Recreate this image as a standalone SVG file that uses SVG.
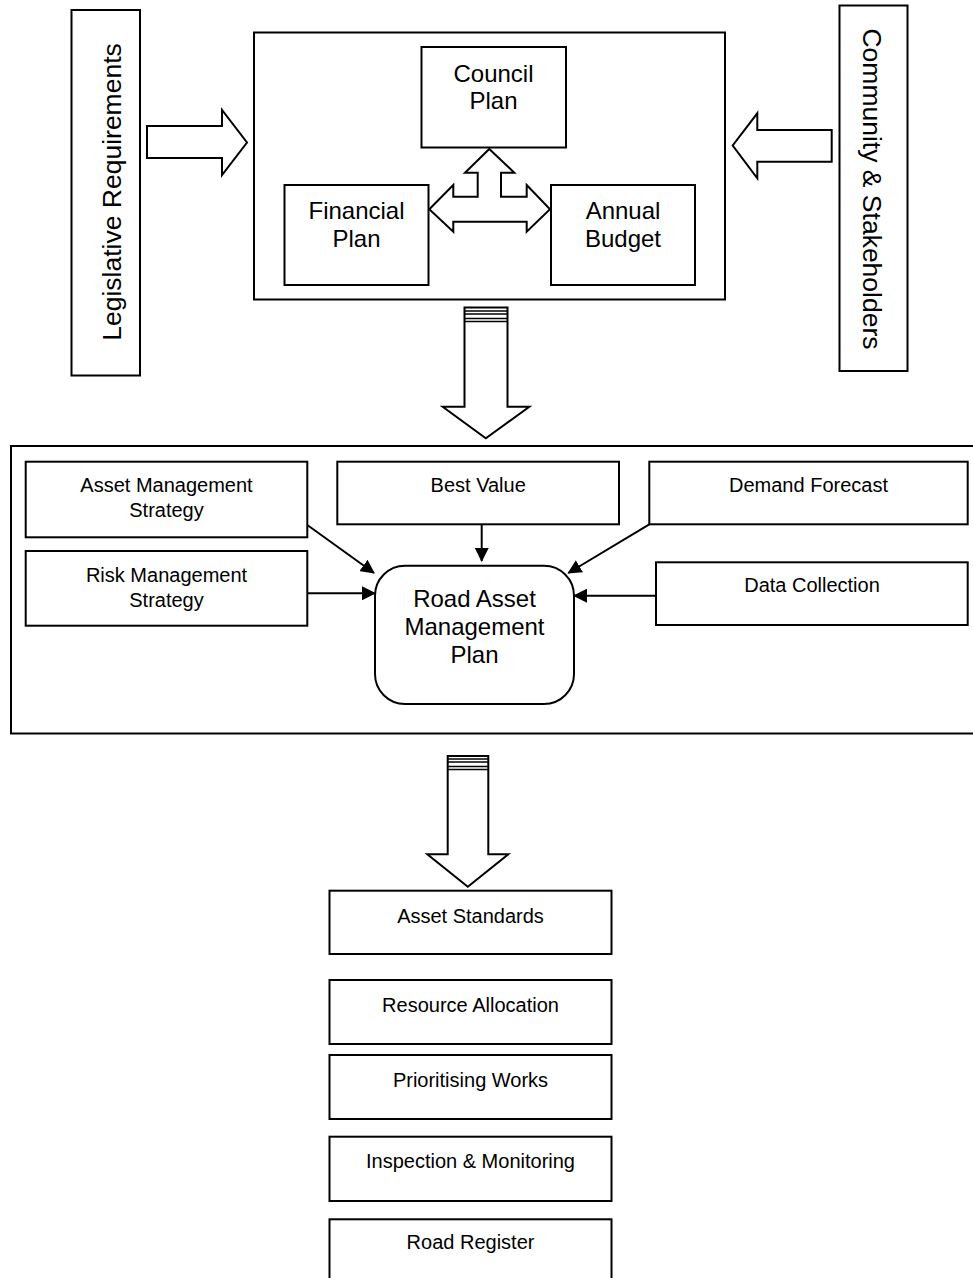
<svg xmlns="http://www.w3.org/2000/svg" width="973" height="1278" viewBox="0 0 973 1278">
<style>
.box{fill:#fff;stroke:#000;stroke-width:2}
.frame{fill:none;stroke:#000;stroke-width:2}
.blk{fill:#fff;stroke:#000;stroke-width:2;stroke-linejoin:miter}
.t{font-family:"Liberation Sans",Arial,Helvetica,sans-serif;fill:#000;text-anchor:middle}
.t24{font-size:24px}
.t20{font-size:20px}
.t26{font-size:26.5px}
.con{stroke:#000;stroke-width:2;fill:none;marker-end:url(#ah)}
.bar{stroke:#000;stroke-width:1.5}
</style>
<defs>
<marker id="ah" viewBox="0 0 14 14" refX="13" refY="7" markerWidth="14" markerHeight="14" markerUnits="userSpaceOnUse" orient="auto">
<path d="M0,0 L14,7 L0,14 Z" fill="#000"/>
</marker>
</defs>
<rect x="0" y="0" width="973" height="1278" fill="#fff"/>

<g id="legislative">
<rect class="box" x="71.5" y="10" width="68.5" height="365.5"/>
<text class="t t26" transform="translate(121,192) rotate(-90)">Legislative Requirements</text>
</g>

<g id="community">
<rect class="box" x="839.5" y="5.5" width="68" height="365.5"/>
<text class="t t26" transform="translate(863,189) rotate(90)">Community &amp; Stakeholders</text>
</g>

<g id="plans">
<rect class="frame" x="254" y="32.5" width="471" height="267"/>
</g>

<g id="council">
<rect class="box" x="421.5" y="47" width="144.5" height="100.5"/>
<text class="t t24" x="493.5" y="81.5">Council</text>
<text class="t t24" x="493.5" y="109">Plan</text>
</g>

<g id="financial">
<rect class="box" x="284.5" y="185" width="144" height="100"/>
<text class="t t24" x="356.5" y="219">Financial</text>
<text class="t t24" x="356.5" y="246.5">Plan</text>
</g>

<g id="annual">
<rect class="box" x="551" y="185" width="144" height="100"/>
<text class="t t24" x="623" y="219">Annual</text>
<text class="t t24" x="623" y="246.5">Budget</text>
</g>

<g id="ramp-frame">
<rect class="frame" x="11" y="446" width="966" height="287.5"/>
</g>

<g id="ams">
<rect class="box" x="25.7" y="461.7" width="281.6" height="75.6"/>
<text class="t t20" x="166.5" y="492">Asset Management</text>
<text class="t t20" x="166.5" y="517">Strategy</text>
</g>

<g id="rms">
<rect class="box" x="25.7" y="551" width="281.6" height="74.7"/>
<text class="t t20" x="166.5" y="582">Risk Management</text>
<text class="t t20" x="166.5" y="607">Strategy</text>
</g>

<g id="bestvalue">
<rect class="box" x="337.3" y="461.7" width="281.7" height="62.6"/>
<text class="t t20" x="478.2" y="492">Best Value</text>
</g>

<g id="demand">
<rect class="box" x="649.3" y="461.7" width="318.4" height="62.6"/>
<text class="t t20" x="808.5" y="492">Demand Forecast</text>
</g>

<g id="datacollection">
<rect class="box" x="656" y="562.3" width="311.7" height="62.7"/>
<text class="t t20" x="812" y="592">Data Collection</text>
</g>

<g id="ramp">
<rect class="box" x="375" y="565.7" width="199" height="138.3" rx="30" ry="30"/>
<text class="t t24" x="474.5" y="606.7">Road Asset</text>
<text class="t t24" x="474.5" y="635">Management</text>
<text class="t t24" x="474.5" y="662.7">Plan</text>
</g>

<g id="assetstandards">
<rect class="box" x="329.5" y="890.7" width="282" height="63.3"/>
<text class="t t20" x="470.5" y="923">Asset Standards</text>
</g>

<g id="resource">
<rect class="box" x="329.5" y="980" width="282" height="64"/>
<text class="t t20" x="470.5" y="1011.5">Resource Allocation</text>
</g>

<g id="prioritising">
<rect class="box" x="329.5" y="1055" width="282" height="64"/>
<text class="t t20" x="470.5" y="1086.5">Prioritising Works</text>
</g>

<g id="inspection">
<rect class="box" x="329.5" y="1136.7" width="282" height="64.3"/>
<text class="t t20" x="470.5" y="1168">Inspection &amp; Monitoring</text>
</g>

<g id="roadregister">
<rect class="box" x="329.5" y="1219.3" width="282" height="70"/>
<text class="t t20" x="470.5" y="1249">Road Register</text>
</g>

<g id="connectors">
<path class="blk" d="M147,126 L222,126 L222,110 L247,142.5 L222,175 L222,158 L147,158 Z"/>
<path class="blk" d="M831.7,130 L757.3,130 L757.3,113.3 L732.7,145.5 L757.3,178.3 L757.3,161.7 L831.7,161.7 Z"/>
<path class="blk" d="M489.3,149 L514.3,172.7 L501,172.7 L501,196.7 L526.7,196.7 L526.7,185 L550,209.3 L526.7,231.7 L526.7,221.7 L453.3,221.7 L453.3,231.7 L429.3,209.3 L453.3,185 L453.3,196.7 L477.7,196.7 L477.7,172.7 L465,172.7 Z"/>
<path class="blk" d="M464.5,307.5 L507.5,307.5 L507.5,406.7 L529.3,406.7 L485.8,438.3 L442.7,406.7 L464.5,406.7 Z"/>
<line class="bar" x1="464.5" y1="311" x2="507.5" y2="311"/>
<line class="bar" x1="464.5" y1="314" x2="507.5" y2="314"/>
<line class="bar" x1="464.5" y1="318.5" x2="507.5" y2="318.5"/>
<line class="bar" x1="464.5" y1="321.5" x2="507.5" y2="321.5"/>
<path class="blk" d="M447.7,756 L488.3,756 L488.3,854.3 L508.3,854.3 L467.8,886.7 L427.3,854.3 L447.7,854.3 Z"/>
<line class="bar" x1="447.7" y1="759" x2="488.3" y2="759"/>
<line class="bar" x1="447.7" y1="762" x2="488.3" y2="762"/>
<line class="bar" x1="447.7" y1="766.5" x2="488.3" y2="766.5"/>
<line class="bar" x1="447.7" y1="769.5" x2="488.3" y2="769.5"/>
<line class="con" x1="307.3" y1="525" x2="374" y2="573"/>
<line class="con" x1="307.3" y1="593.3" x2="375" y2="593.3"/>
<line class="con" x1="481.7" y1="524.3" x2="481.7" y2="561"/>
<line class="con" x1="649.3" y1="524.3" x2="568.3" y2="573"/>
<line class="con" x1="656" y1="595.7" x2="574" y2="595.7"/>
</g>
</svg>
